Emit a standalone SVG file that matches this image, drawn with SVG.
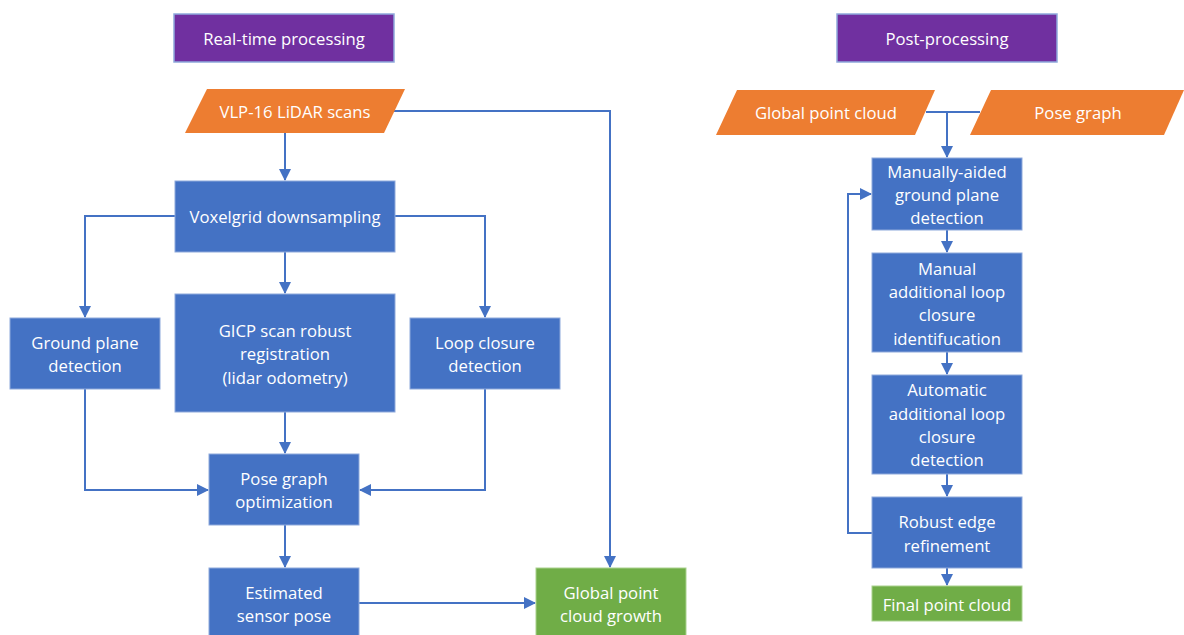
<svg xmlns="http://www.w3.org/2000/svg" width="1184" height="635" viewBox="0 0 1184 635">
<style>
.box{fill:#4472C4;stroke:#8EA9DB;stroke-width:1}
.pur{fill:#7030A0;stroke:#8EA9DB;stroke-width:1.5}
.org{fill:#ED7D31}
.grn{fill:#70AD47;stroke:#A9D18E;stroke-width:1}
text{font-family:"Open Sans","Liberation Sans",sans-serif;font-size:16.7px;fill:#ffffff;text-anchor:middle;dominant-baseline:central}
.c{fill:none;stroke:#4472C4;stroke-width:2}
</style>
<defs>
<marker id="ah" viewBox="0 0 12 12" refX="11" refY="6" markerWidth="12" markerHeight="12" markerUnits="userSpaceOnUse" orient="auto">
<path d="M0,0 L12,6 L0,12 z" fill="#4472C4"/>
</marker>
</defs>
<rect width="1184" height="635" fill="#ffffff"/>

<g id="connectors">
<path class="c" d="M285,133 V180" marker-end="url(#ah)"/>
<path class="c" d="M393,111 H610 V567" marker-end="url(#ah)"/>
<path class="c" d="M175,216 H85 V317" marker-end="url(#ah)"/>
<path class="c" d="M395,216 H485 V317" marker-end="url(#ah)"/>
<path class="c" d="M285,252 V293" marker-end="url(#ah)"/>
<path class="c" d="M85,389 V490 H208" marker-end="url(#ah)"/>
<path class="c" d="M485,389 V490 H360" marker-end="url(#ah)"/>
<path class="c" d="M285,412 V453" marker-end="url(#ah)"/>
<path class="c" d="M285,525 V567" marker-end="url(#ah)"/>
<path class="c" d="M359,603 H535" marker-end="url(#ah)"/>
<path class="c" d="M926,112 H980 M947,112 V157" marker-end="url(#ah)"/>
<path class="c" d="M947,230 V252" marker-end="url(#ah)"/>
<path class="c" d="M947,352 V374" marker-end="url(#ah)"/>
<path class="c" d="M947,474 V496" marker-end="url(#ah)"/>
<path class="c" d="M947,568 V585" marker-end="url(#ah)"/>
<path class="c" d="M872,533 H848 V194 H871" marker-end="url(#ah)"/>
</g>

<g id="title-realtime">
<rect class="pur" x="174" y="14" width="220" height="48"/>
<text x="284" y="38">Real-time processing</text>
</g>
<g id="title-post">
<rect class="pur" x="837" y="14" width="220" height="48"/>
<text x="947" y="38">Post-processing</text>
</g>

<g id="vlp16">
<polygon class="org" points="207,89 405,89 384,133 185,133"/>
<text x="295" y="111">VLP-16 LiDAR scans</text>
</g>
<g id="voxelgrid">
<rect class="box" x="175" y="181" width="220" height="71"/>
<text x="285" y="216">Voxelgrid downsampling</text>
</g>
<g id="ground-plane">
<rect class="box" x="10" y="318" width="150" height="71"/>
<text x="85" y="342">Ground plane</text>
<text x="85" y="365">detection</text>
</g>
<g id="gicp">
<rect class="box" x="175" y="294" width="220" height="118"/>
<text x="285" y="330">GICP scan robust</text>
<text x="285" y="353">registration</text>
<text x="285" y="377">(lidar odometry)</text>
</g>
<g id="loop-closure">
<rect class="box" x="410" y="318" width="150" height="71"/>
<text x="485" y="342">Loop closure</text>
<text x="485" y="365">detection</text>
</g>
<g id="pose-graph-opt">
<rect class="box" x="209" y="454" width="150" height="71"/>
<text x="284" y="478">Pose graph</text>
<text x="284" y="501">optimization</text>
</g>
<g id="estimated-pose">
<rect class="box" x="209" y="568" width="150" height="71"/>
<text x="284" y="592">Estimated</text>
<text x="284" y="615">sensor pose</text>
</g>
<g id="global-growth">
<rect class="grn" x="536" y="568" width="150" height="71"/>
<text x="611" y="592">Global point</text>
<text x="611" y="615">cloud growth</text>
</g>

<g id="global-point-cloud">
<polygon class="org" points="737,90 935,90 915,135 716,135"/>
<text x="826" y="112">Global point cloud</text>
</g>
<g id="pose-graph">
<polygon class="org" points="991,90 1184,90 1164,135 970,135"/>
<text x="1078" y="112">Pose graph</text>
</g>
<g id="manually-aided">
<rect class="box" x="872" y="158" width="150" height="72"/>
<text x="947" y="171">Manually-aided</text>
<text x="947" y="194">ground plane</text>
<text x="947" y="217">detection</text>
</g>
<g id="manual-loop">
<rect class="box" x="872" y="253" width="150" height="99"/>
<text x="947" y="268">Manual</text>
<text x="947" y="291">additional loop</text>
<text x="947" y="314">closure</text>
<text x="947" y="338">identifucation</text>
</g>
<g id="automatic-loop">
<rect class="box" x="872" y="375" width="150" height="99"/>
<text x="947" y="389">Automatic</text>
<text x="947" y="413">additional loop</text>
<text x="947" y="436">closure</text>
<text x="947" y="459">detection</text>
</g>
<g id="robust-edge">
<rect class="box" x="872" y="497" width="150" height="71"/>
<text x="947" y="521">Robust edge</text>
<text x="947" y="545">refinement</text>
</g>
<g id="final-cloud">
<rect class="grn" x="872" y="586" width="150" height="35"/>
<text x="947" y="604">Final point cloud</text>
</g>
</svg>
